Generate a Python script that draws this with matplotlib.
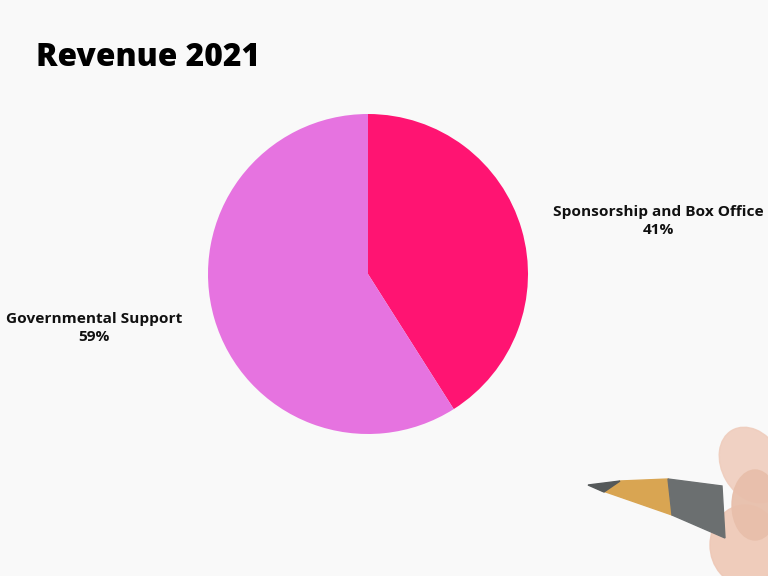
import matplotlib.pyplot as plt
from matplotlib.patches import Polygon, Ellipse

plt.rcParams['font.family'] = ['Open Sans', 'DejaVu Sans']

# data
categories = ['Sponsorship and Box Office', 'Governmental Support']
shares = [41, 59]
colors = ['#FF1472', '#E673E0']

W, H = 768, 576
fig = plt.figure(figsize=(W / 100, H / 100), dpi=100)
fig.patch.set_facecolor('#f9f9f9')

# pie: centre (368, 274), radius 160 px
cx, cy, r = 368, 274, 160
ax = fig.add_axes([(cx - r) / W, (H - cy - r) / H, 2 * r / W, 2 * r / H])
ax.pie(shares, colors=colors, startangle=90, counterclock=False,
       wedgeprops={'linewidth': 0})
ax.set_aspect('equal')
ax.set_xlim(-1, 1)
ax.set_ylim(-1, 1)

# labels
label_pos = [(658, 221), (94, 328)]
for name, val, (x, y) in zip(categories, shares, label_pos):
  fig.text(x / W, 1 - y / H, f'{name}\n{val}%', ha='center', va='center',
           fontsize=11.1, fontweight='bold', linespacing=1.4, color='#111111')

fig.text(36 / W, 1 - 58 / H, 'Revenue 2021', ha='left', va='center',
         fontsize=22.8, fontweight='heavy', color='black')

# rough pencil and hand in the lower right corner
deco = fig.add_axes([0, 0, 1, 1], zorder=-1)
deco.set_xlim(0, W)
deco.set_ylim(H, 0)
deco.axis('off')
deco.add_patch(Ellipse((752, 465), 60, 80, angle=-30, color='#efcdbd', alpha=0.9))
deco.add_patch(Ellipse((745, 545), 70, 80, color='#eec7b5', alpha=0.9))
deco.add_patch(Polygon([(620, 481), (668, 479), (672, 515), (600, 490)],
                       closed=True, color='#d9a552'))
deco.add_patch(Polygon([(668, 479), (722, 486), (725, 538), (672, 515)],
                       closed=True, color='#6b6f70'))
deco.add_patch(Polygon([(588, 485), (620, 481), (604, 492)],
                       closed=True, color='#55595a'))
deco.add_patch(Ellipse((755, 505), 46, 70, color='#e8bfab', alpha=0.95))

fig.savefig('out.png', dpi=100, facecolor=fig.get_facecolor())
